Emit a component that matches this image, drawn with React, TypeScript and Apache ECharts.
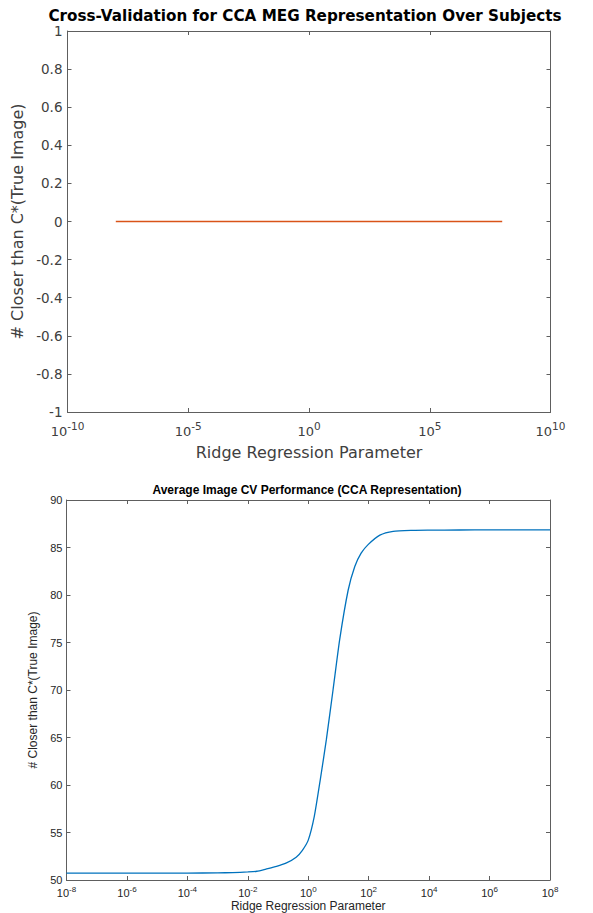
import React, { useEffect, useRef } from "react";
import * as echarts from "echarts";

// Top panel: cross-validation over subjects (all zero)
const topLambda = [1e-8, 1e8];
const topCloser = [0, 0];
const topYTicks = [-1, -0.8, -0.6, -0.4, -0.2, 0, 0.2, 0.4, 0.6, 0.8, 1];

// Bottom panel: average image CV performance
const lambdaExp = [
  -8, -7, -6, -5, -4, -3, -2.5, -2, -1.7, -1.4, -1.05, -0.72, -0.4, -0.2, 0,
  0.2, 0.4, 0.6, 0.82, 1.04, 1.32, 1.54, 1.75, 1.98, 2.37, 2.81, 3.47, 4, 5, 6,
  7, 8,
];
const avgCloser = [
  50.73, 50.73, 50.73, 50.73, 50.73, 50.75, 50.78, 50.85, 50.92, 51.15, 51.43,
  51.8, 52.4, 53.1, 54.2, 56.7, 60.6, 64.8, 70.0, 75.3, 80.5, 83.0, 84.4, 85.3,
  86.3, 86.7, 86.8, 86.82, 86.84, 86.85, 86.85, 86.85,
];

const topTitle = "Cross-Validation for CCA MEG Representation Over Subjects";
const bottomTitle = "Average Image CV Performance (CCA Representation)";
const xName = "Ridge Regression Parameter";
const yName = "# Closer than C*(True Image)";

const AXIS_COLOR = "#5e5e5e";

function supFmt(v: number) {
  const e = Math.round(Math.log10(v));
  return `{b|10}{s|${e}}`;
}

export default function App() {
  const ref = useRef<HTMLDivElement>(null);
  useEffect(() => {
    if (!ref.current) return;
    const chart = echarts.init(ref.current, undefined, { renderer: "svg" });
    const fTop = "DejaVu Sans";
    const fBot = "Liberation Sans";
    const axisLine = { show: true, onZero: false, lineStyle: { color: AXIS_COLOR, width: 1 } };
    const tick = { show: true, inside: true, length: 4, lineStyle: { color: AXIS_COLOR } };
    const option: any = {
      animation: false,
      backgroundColor: "#ffffff",
      title: [
        {
          text: topTitle,
          left: 305,
          top: 8,
          textAlign: "center",
          padding: 0,
          textStyle: { fontFamily: fTop, fontWeight: "bold", fontSize: 15.2, color: "#000" },
        },
        {
          text: bottomTitle,
          left: 307,
          top: 484,
          textAlign: "center",
          padding: 0,
          textStyle: { fontFamily: fBot, fontWeight: "bold", fontSize: 12, color: "#000" },
        },
      ],
      grid: [
        { left: 67.5, top: 31, width: 483, height: 381, containLabel: false },
        { left: 66.5, top: 500, width: 483.5, height: 381, containLabel: false },
      ],
      xAxis: [
        {
          gridIndex: 0,
          type: "log",
          logBase: 10,
          min: 1e-10,
          max: 1e10,
          interval: 5,
          splitNumber: 4,
          position: "bottom",
          name: xName,
          nameLocation: "middle",
          nameGap: 32,
          nameTextStyle: { fontFamily: fTop, fontSize: 16, color: "#404040" },
          axisLine,
          axisTick: tick,
          minorTick: { show: false },
          splitLine: { show: false },
          axisLabel: {
            formatter: supFmt,
            margin: 8,
            rich: {
              b: { fontFamily: fTop, fontSize: 13, color: "#404040", lineHeight: 22 },
              s: { fontFamily: fTop, fontSize: 10.5, color: "#404040", lineHeight: 10, verticalAlign: "top" },
            },
          },
        },
        {
          gridIndex: 0,
          type: "log",
          logBase: 10,
          min: 1e-10,
          max: 1e10,
          interval: 5,
          splitNumber: 4,
          position: "top",
          axisLine,
          axisTick: tick,
          axisLabel: { show: false },
          splitLine: { show: false },
        },
        {
          gridIndex: 1,
          type: "log",
          logBase: 10,
          min: 1e-8,
          max: 1e8,
          interval: 2,
          splitNumber: 8,
          position: "bottom",
          name: xName,
          nameLocation: "middle",
          nameGap: 20,
          nameTextStyle: { fontFamily: fBot, fontSize: 12, color: "#262626" },
          axisLine,
          axisTick: tick,
          splitLine: { show: false },
          axisLabel: {
            formatter: supFmt,
            margin: 5,
            rich: {
              b: { fontFamily: fBot, fontSize: 11, color: "#262626", lineHeight: 16 },
              s: { fontFamily: fBot, fontSize: 8, color: "#262626", lineHeight: 8, verticalAlign: "top" },
            },
          },
        },
        {
          gridIndex: 1,
          type: "log",
          logBase: 10,
          min: 1e-8,
          max: 1e8,
          interval: 2,
          splitNumber: 8,
          position: "top",
          axisLine,
          axisTick: tick,
          axisLabel: { show: false },
          splitLine: { show: false },
        },
      ],
      yAxis: [
        {
          gridIndex: 0,
          type: "value",
          min: -1,
          max: 1,
          interval: 0.2,
          position: "left",
          name: yName,
          nameLocation: "middle",
          nameGap: 42,
          nameRotate: 90,
          nameTextStyle: { fontFamily: fTop, fontSize: 16, color: "#404040" },
          axisLine,
          axisTick: tick,
          splitLine: { show: false },
          axisLabel: {
            margin: 5,
            fontFamily: fTop,
            fontSize: 13.5,
            color: "#404040",
            formatter: (v: number) => {
              const t = topYTicks.find((k) => Math.abs(k - v) < 1e-9);
              return String(t !== undefined ? t : v);
            },
          },
        },
        {
          gridIndex: 0,
          type: "value",
          min: -1,
          max: 1,
          interval: 0.2,
          position: "right",
          axisLine,
          axisTick: tick,
          axisLabel: { show: false },
          splitLine: { show: false },
        },
        {
          gridIndex: 1,
          type: "value",
          min: 50,
          max: 90,
          interval: 5,
          position: "left",
          name: yName,
          nameLocation: "middle",
          nameGap: 15,
          nameRotate: 90,
          nameTextStyle: { fontFamily: fBot, fontSize: 12, color: "#262626" },
          axisLine,
          axisTick: tick,
          splitLine: { show: false },
          axisLabel: { margin: 4, fontFamily: fBot, fontSize: 11, color: "#262626" },
        },
        {
          gridIndex: 1,
          type: "value",
          min: 50,
          max: 90,
          interval: 5,
          position: "right",
          axisLine,
          axisTick: tick,
          axisLabel: { show: false },
          splitLine: { show: false },
        },
      ],
      series: [
        {
          type: "line",
          xAxisIndex: 0,
          yAxisIndex: 0,
          data: topLambda.map((x, i) => [x, topCloser[i]]),
          showSymbol: false,
          color: "#D95319",
          itemStyle: { color: "#D95319" },
          lineStyle: { color: "#D95319", width: 1.5 },
        },
        {
          type: "line",
          xAxisIndex: 2,
          yAxisIndex: 2,
          data: lambdaExp.map((e, i) => [Math.pow(10, e), avgCloser[i]]),
          showSymbol: false,
          smooth: 0.2,
          color: "#0072BD",
          itemStyle: { color: "#0072BD" },
          lineStyle: { color: "#0072BD", width: 1.3 },
        },
      ],
    };
    chart.setOption(option);
    return () => chart.dispose();
  }, []);
  return (
    <div
      ref={ref}
      style={{ position: "fixed", left: 0, top: 0, width: 593, height: 913, background: "#fff" }}
    />
  );
}
